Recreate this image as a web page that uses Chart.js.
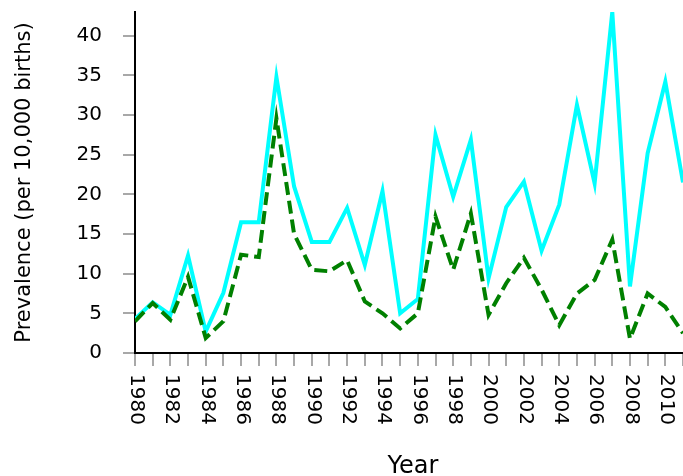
<!DOCTYPE html>
<html>
<head>
<meta charset="utf-8">
<script src="https://cdn.jsdelivr.net/npm/chart.js@4"></script>
<style>
  html, body { margin: 0; padding: 0; background: #fff; }
  canvas { display: block; }
</style>
</head>
<body>
<canvas id="prevChart" width="683" height="476"></canvas>
<script>
// values, one per year 1980..2011
const years = [1980, 1981, 1982, 1983, 1984, 1985, 1986, 1987, 1988, 1989,
               1990, 1991, 1992, 1993, 1994, 1995, 1996, 1997, 1998, 1999,
               2000, 2001, 2002, 2003, 2004, 2005, 2006, 2007, 2008, 2009,
               2010, 2011];
const cyanValues = [4.3, 6.4, 4.8, 12.3, 2.7, 7.6, 16.5, 16.5, 34.8, 21.0,
                    14.0, 14.0, 18.3, 11.1, 20.4, 5.0, 6.8, 27.5, 19.7, 26.9,
                    9.4, 18.4, 21.6, 12.9, 18.7, 31.3, 21.4, 43.0, 8.4, 25.2,
                    34.2, 21.5];
const greenValues = [4.0, 6.3, 4.2, 9.6, 1.9, 4.0, 12.4, 12.1, 29.6, 15.0,
                     10.5, 10.3, 11.7, 6.5, 5.0, 3.1, 5.0, 17.2, 10.5, 17.6,
                     4.8, 8.8, 12.0, 8.0, 3.5, 7.5, 9.2, 14.3, 1.8, 7.5,
                     5.8, 2.5];
const yearLabels = ['1980', '1982', '1984', '1986', '1988', '1990', '1992', '1994',
                    '1996', '1998', '2000', '2002', '2004', '2006', '2008', '2010'];

const FONT = 'DejaVu Sans';

function toPoints(vals) {
    return years.map((yr, i) => ({ x: yr, y: vals[i] }));
}

// x labels read top-to-bottom, which Chart.js does not do, so draw them here
const axisText = {
    id: 'axisText',
    afterDraw(chart) {
        const ctx = chart.ctx;
        const xs = chart.scales.x;
        ctx.save();
        ctx.fillStyle = '#000';
        ctx.font = '20px "' + FONT + '"';
        ctx.textAlign = 'left';
        ctx.textBaseline = 'middle';
        yearLabels.forEach(lbl => {
            const px = xs.getPixelForValue(Number(lbl));
            ctx.save();
            ctx.translate(px + 1, 374);
            ctx.rotate(Math.PI / 2);
            ctx.fillText(lbl, 0, 0);
            ctx.restore();
        });
        ctx.font = '24px "' + FONT + '"';
        ctx.textAlign = 'center';
        ctx.textBaseline = 'alphabetic';
        ctx.fillText('Year', (chart.chartArea.left + chart.chartArea.right) / 2 + 4, 473);
        ctx.restore();
    }
};

new Chart(document.getElementById('prevChart').getContext('2d'), {
    type: 'line',
    data: {
        datasets: [{
            label: 'green',
            data: toPoints(greenValues),
            borderColor: '#008000',
            borderWidth: 4,
            borderDash: [13, 6],
            pointRadius: 0,
            tension: 0,
            order: 0
        }, {
            label: 'cyan',
            data: toPoints(cyanValues),
            borderColor: '#00ffff',
            borderWidth: 4,
            pointRadius: 0,
            tension: 0,
            order: 1
        }]
    },
    options: {
        responsive: false,
        animation: false,
        layout: { padding: { top: 12, right: 0, bottom: 0, left: 0 } },
        plugins: {
            legend: { display: false },
            tooltip: { enabled: false }
        },
        scales: {
            x: {
                type: 'linear',
                min: 1980,
                max: 2011,
                ticks: { stepSize: 1, autoSkip: false, maxRotation: 0, display: false, includeBounds: false },
                grid: { drawOnChartArea: false, color: '#a8a8a8', lineWidth: 2, tickLength: 13 },
                border: { color: '#000', width: 2 },
                afterFit: s => {
                    s.height = 123;
                    s.paddingLeft = 0;
                    s.paddingRight = 0;
                }
            },
            y: {
                min: 0,
                max: 43,
                ticks: {
                    stepSize: 5,
                    includeBounds: false,
                    padding: 21,
                    color: '#000',
                    font: { family: FONT, size: 20 }
                },
                grid: { drawOnChartArea: false, color: '#a8a8a8', lineWidth: 2, tickLength: 12 },
                border: { color: '#000', width: 2 },
                title: {
                    display: true,
                    text: 'Prevalence (per 10,000 births)',
                    color: '#000',
                    font: { family: FONT, size: 21 },
                    padding: { top: 12, bottom: 0 }
                },
                afterFit: s => {
                    s.width = 135;
                    s.paddingTop = 0;
                    s.paddingBottom = 0;
                }
            }
        }
    },
    plugins: [axisText]
});
</script>
</body>
</html>
